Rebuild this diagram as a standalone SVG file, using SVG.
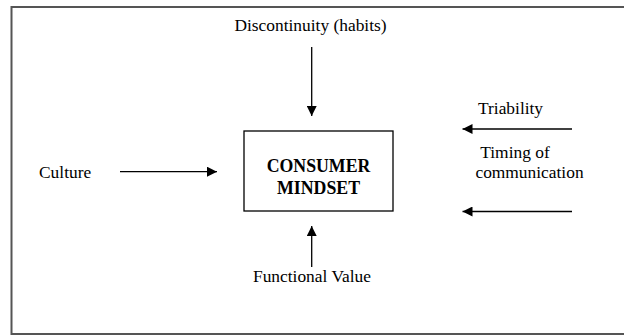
<svg xmlns="http://www.w3.org/2000/svg" width="624" height="335" viewBox="0 0 624 335">
<defs>
<style>
text{font-family:"Liberation Serif","Times New Roman",serif;font-size:17.4px;fill:#000}
.b{font-weight:bold;font-size:17.8px}
.c{stroke:#000;stroke-width:1.3;fill:none}
</style>
<marker id="ah" viewBox="0 0 10 10" refX="10" refY="5" markerWidth="10" markerHeight="10" markerUnits="userSpaceOnUse" orient="auto">
<path d="M0,0 L10,5 L0,10 Z" fill="#000"/>
</marker>
</defs>
<rect width="624" height="335" fill="#fff"/>
<path d="M626,7 H11.5 V334 H626" fill="none" stroke="#555" stroke-width="2"/>
<g id="mindset">
<rect x="244" y="131" width="149" height="80" fill="#fff" stroke="#000" stroke-width="1.3"/>
<text class="b" x="318.5" y="172" text-anchor="middle">CONSUMER</text>
<text class="b" x="318.5" y="194" text-anchor="middle">MINDSET</text>
</g>
<g id="discontinuity"><text x="310.5" y="31" text-anchor="middle">Discontinuity (habits)</text></g>
<g id="culture"><text x="39" y="178">Culture</text></g>
<g id="functional"><text x="312" y="282" text-anchor="middle">Functional Value</text></g>
<g id="triability"><text x="478" y="114">Triability</text></g>
<g id="timing">
<text x="515" y="158" text-anchor="middle">Timing of</text>
<text x="529.5" y="178" text-anchor="middle">communication</text>
</g>
<g id="connectors">
<line class="c" x1="311.7" y1="47" x2="311.7" y2="116" marker-end="url(#ah)"/>
<line class="c" x1="120" y1="171.7" x2="217" y2="171.7" marker-end="url(#ah)"/>
<line class="c" x1="311.7" y1="267" x2="311.7" y2="226" marker-end="url(#ah)"/>
<line class="c" x1="572" y1="129" x2="462.5" y2="129" marker-end="url(#ah)"/>
<line class="c" x1="572" y1="211.5" x2="462.5" y2="211.5" marker-end="url(#ah)"/>
</g>
</svg>
